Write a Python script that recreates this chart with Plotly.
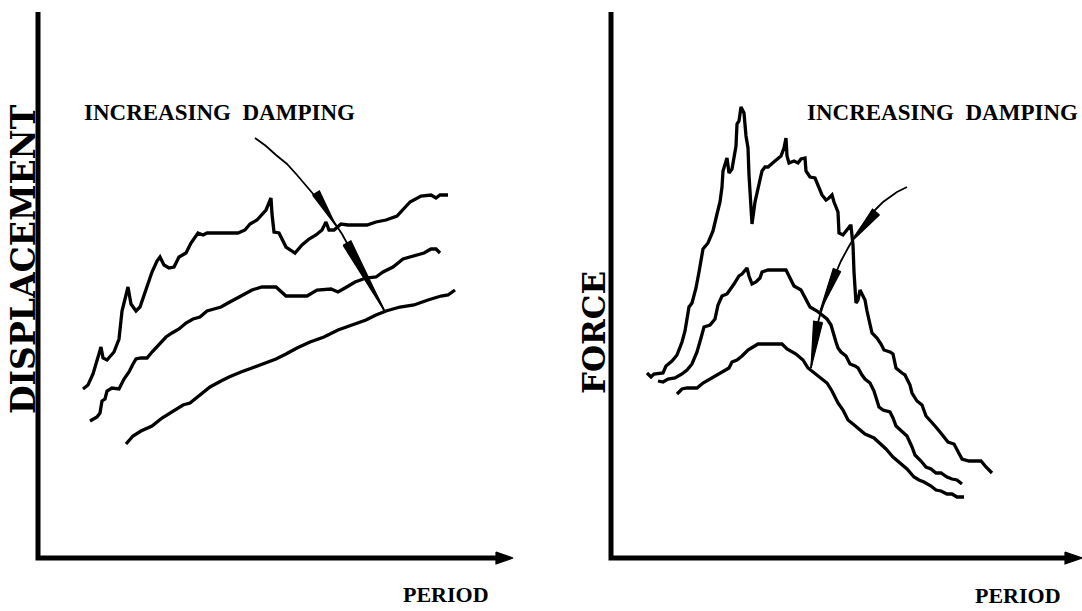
import plotly.graph_objects as go

# ---------------- data (arbitrary units: period vs response) ----------------
# Left panel: displacement vs period, three damping levels (1 = lowest damping)
disp_period_1 = [45,50,55,60,63,65,69,76,81,84,87,90,93,98,102,107,114,119,122,126,131,136,141,148,153,160,165,169,200,207,212,219,228,233,234,236,241,248,257,264,271,278,284,288,291,296,303,310,329,338,348,359,365,372,383,393,398,402,410]
disp_value_1 = [169,173,184,200,211,200,198,206,219,247,258,271,254,247,251,266,286,297,301,293,290,291,301,305,315,325,323,325,325,328,334,338,348,360,344,326,325,311,305,313,319,323,328,336,328,328,334,333,333,336,338,342,348,356,362,363,360,363,363]
disp_period_2 = [52,59,62,64,67,69,74,81,86,91,95,98,103,109,114,121,128,134,141,148,155,162,169,176,183,190,196,203,214,224,238,248,269,279,293,300,307,317,328,338,345,355,365,376,386,393,398,402]
disp_value_2 = [137,141,145,157,159,167,170,169,179,186,194,199,200,200,206,214,221,225,229,235,239,241,247,249,251,255,258,262,268,271,271,262,262,268,269,266,270,276,280,281,286,291,299,302,305,309,309,305]
disp_period_3 = [88,95,103,114,124,134,145,152,162,172,183,191,203,214,224,238,248,259,272,286,300,314,328,338,348,362,376,390,403,410,417]
disp_value_3 = [114,122,127,132,140,146,153,155,163,171,177,181,186,190,194,199,204,210,216,221,228,233,238,243,247,251,253,258,262,263,268]

# Right panel: force vs period, three damping levels
force_period_1 = [36,40,43,48,52,55,61,66,71,74,78,81,85,88,89,92,97,102,106,109,111,112,116,118,121,123,125,126,128,130,133,135,137,138,140,141,144,147,151,154,157,164,170,173,175,176,178,183,187,190,194,195,199,204,208,211,215,218,221,223,227,228,232,235,239,240,242,243,245,247,249,252,254,256,258,261,266,270,273,279,282,285,291,294,299,301,306,311,315,317,320,324,329,334,337,343,348,351,358,363,370,375,381]
force_value_1 = [185,181,184,185,185,192,197,203,216,227,251,255,270,286,293,309,315,327,344,356,371,387,400,385,389,400,412,434,437,451,445,422,410,383,356,334,356,371,387,391,391,397,402,410,420,402,395,397,395,399,400,387,381,380,371,363,358,360,363,356,346,325,323,327,332,332,313,286,255,258,268,262,258,247,239,225,220,214,208,206,204,190,185,183,173,165,157,153,142,140,136,132,126,120,116,114,105,99,97,97,97,91,85]
force_period_2 = [47,52,57,64,71,76,81,86,90,93,99,104,107,111,116,119,123,128,131,136,138,141,145,149,151,157,175,178,183,190,195,199,206,211,216,220,222,225,227,230,235,239,244,247,251,254,259,263,268,272,279,282,285,291,296,301,304,310,315,320,325,330,336,341,346,351]
force_value_2 = [177,176,179,180,184,188,194,206,220,231,233,239,253,262,264,268,274,282,284,290,282,274,276,280,286,288,288,282,272,268,258,251,247,243,239,233,225,216,210,206,202,194,192,190,183,179,175,167,151,148,146,140,132,126,122,111,103,97,91,89,85,85,81,79,78,74]
force_period_3 = [66,71,76,86,92,99,106,112,118,121,126,131,137,142,147,171,176,185,192,197,202,209,216,221,227,232,237,242,247,254,263,270,275,282,289,296,303,308,313,320,325,330,336,341,346,353]
force_value_3 = [164,169,170,170,175,179,183,186,190,196,198,202,208,211,214,214,209,204,198,190,186,181,175,167,155,148,138,134,130,124,120,114,109,101,95,89,81,78,76,72,68,67,64,64,61,61]

# "Increasing damping" pointer arrows (path + filled heads)
disp_arrow_x = [217,228,238,249,259,267,274,282,290,297,304,310,317,324,332,340,347]
disp_arrow_y = [420,412,403,394,383,374,366,356,345,335,324,313,301,288,274,260,246]
disp_heads_x = [[274.6,298,281.4], [305.1,347,312.9]]
disp_heads_y = [[362.9,332,367.1], [312.8,246,317.2]]

force_arrow_x = [296,286,279,272,266,259,251,244,237,230,224,218,213,209,205,203,201,200]
force_arrow_y = [371,366,361,356,350,343,332,322,310,297,283,268,255,243,228,213,200,190]
force_heads_x = [[268.5,241,261.5], [229.7,209,222.3], [211.5,200,202.6]]
force_heads_y = [[343.1,317,348.9], [286.5,247,289.5], [235.3,190,236.7]]

# axis frames
left_axis_x = [0, 0, 462]
left_axis_y = [546, 0, 0]
left_axis_head_x = [458, 475, 458]
left_axis_head_y = [6, 0, -6]
right_axis_x = [0, 0, 458]
right_axis_y = [546, 0, 0]
right_axis_head_x = [454, 471, 454]
right_axis_head_y = [6, 0, -6]

label_text = "INCREASING\u00a0\u00a0DAMPING"

# ---------------- figure ----------------
fig = go.Figure()
BLACK = "#000000"

def line(xs, ys, w, xa="x", ya="y"):
    fig.add_trace(go.Scatter(x=xs, y=ys, mode="lines", xaxis=xa, yaxis=ya,
                             line=dict(color=BLACK, width=w), hoverinfo="skip",
                             showlegend=False))

def tri(xs, ys, xa="x", ya="y"):
    fig.add_trace(go.Scatter(x=xs + [xs[0]], y=ys + [ys[0]], mode="lines",
                             fill="toself", fillcolor=BLACK, xaxis=xa, yaxis=ya,
                             line=dict(color=BLACK, width=1.2), hoverinfo="skip",
                             showlegend=False))

# left panel
line(left_axis_x, left_axis_y, 5)
tri(left_axis_head_x, left_axis_head_y)
line(disp_period_1, disp_value_1, 3.3)
line(disp_period_2, disp_value_2, 3.3)
line(disp_period_3, disp_value_3, 3.3)
line(disp_arrow_x, disp_arrow_y, 1.8)
for hx, hy in zip(disp_heads_x, disp_heads_y):
    tri(hx, hy)

# right panel
line(right_axis_x, right_axis_y, 5, "x2", "y2")
tri(right_axis_head_x, right_axis_head_y, "x2", "y2")
line(force_period_1, force_value_1, 3.3, "x2", "y2")
line(force_period_2, force_value_2, 3.3, "x2", "y2")
line(force_period_3, force_value_3, 3.3, "x2", "y2")
line(force_arrow_x, force_arrow_y, 1.8, "x2", "y2")
for hx, hy in zip(force_heads_x, force_heads_y):
    tri(hx, hy, "x2", "y2")

cond = dict(family="Liberation Serif", size=23, color=BLACK, weight="bold")
cond_p = dict(family="Liberation Serif", size=22, color=BLACK, weight="bold")
wide_d = dict(family="DejaVu Serif", size=33, color=BLACK, weight="bold")
wide_f = dict(family="DejaVu Serif", size=31, color=BLACK, weight="bold")

fig.update_layout(
    width=1082, height=611,
    margin=dict(l=0, r=0, t=0, b=0),
    paper_bgcolor="white", plot_bgcolor="white",
    showlegend=False,
    xaxis=dict(domain=[0, 0.5], range=[-38, 503], visible=False, fixedrange=True),
    yaxis=dict(domain=[0, 1], range=[-53, 558], visible=False, fixedrange=True),
    xaxis2=dict(domain=[0.5, 1], range=[-70, 471], visible=False, fixedrange=True, anchor="y2"),
    yaxis2=dict(domain=[0, 1], range=[-53, 558], visible=False, fixedrange=True, anchor="x2"),
    annotations=[
        dict(text=label_text, x=181, y=446, xref="x", yref="y", showarrow=False,
             xanchor="center", yanchor="middle", font=cond),
        dict(text=label_text, x=469, y=446, xref="x2", yref="y2", showarrow=False,
             xanchor="right", yanchor="middle", font=cond),
        dict(text="PERIOD", x=408, y=-36, xref="x", yref="y", showarrow=False,
             xanchor="center", yanchor="middle", font=cond_p),
        dict(text="PERIOD", x=407, y=-37, xref="x2", yref="y2", showarrow=False,
             xanchor="center", yanchor="middle", font=cond_p),
        dict(text="DISPLACEMENT", x=-15, y=299, xref="x", yref="y", showarrow=False,
             textangle=-90, xanchor="center", yanchor="middle", font=wide_d),
        dict(text="FORCE", x=-17, y=225, xref="x2", yref="y2", showarrow=False,
             textangle=-90, xanchor="center", yanchor="middle", font=wide_f),
    ],
)

fig.write_html(
    "out.html",
    config={"displayModeBar": False},
    post_script="document.body.style.margin='0';document.body.style.overflow='hidden';",
)
